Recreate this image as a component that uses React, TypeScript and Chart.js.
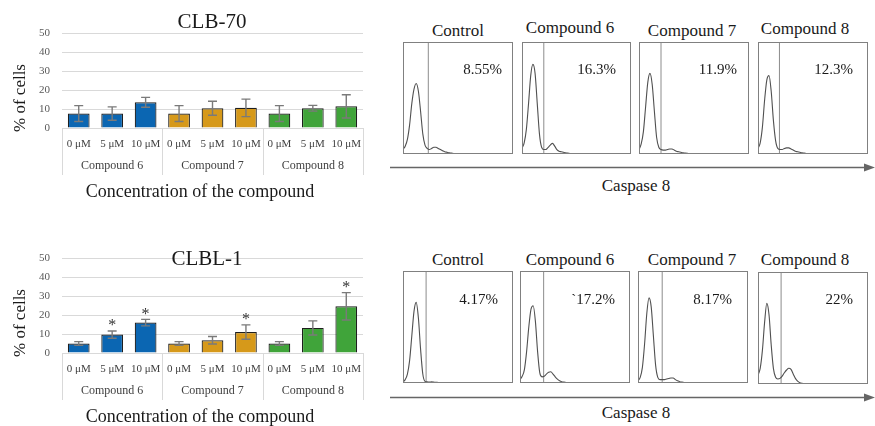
import React, { useEffect, useRef } from 'react';
import { Chart, registerables } from 'chart.js';
Chart.register(...registerables);

const FONT = '"Liberation Serif", "Times New Roman", serif';

// ---------- data: bar charts ----------
const CONCENTRATIONS = ['0 μM', '5 μM', '10 μM'];
const COMPOUNDS = ['Compound 6', 'Compound 7', 'Compound 8'];
const Y_MAX = 50;
const Y_STEP = 10;

const CLB70_MEAN = [7.6, 7.6, 13.5, 7.6, 10.4, 10.6, 7.6, 10.4, 11.4];
const CLB70_SD = [4.2, 3.5, 2.6, 4.2, 3.7, 4.6, 4.2, 1.5, 6.1];
const CLB70_SIG = [false, false, false, false, false, false, false, false, false];

const CLBL1_MEAN = [5.0, 9.7, 16.0, 5.0, 6.7, 11.0, 5.0, 13.2, 24.6];
const CLBL1_SD = [1.0, 1.9, 1.7, 1.0, 2.0, 3.8, 1.0, 3.7, 7.2];
const CLBL1_SIG = [false, true, true, false, false, true, false, false, true];

// ---------- data: flow histograms ----------
const PANEL_TITLES = ['Control', 'Compound 6', 'Compound 7', 'Compound 8'];
const HIST_X = [0, 2, 4, 6, 8, 10, 12, 14, 16, 18, 20, 22, 24, 26, 28, 30, 32, 34, 36, 38, 40, 42, 44, 46, 48, 50];

const CLB70_CONTROL = [4, 7, 13, 26, 45, 58, 63, 56, 38, 18, 8, 5, 4, 5, 6, 6, 5, 4, 3, 2, 1.5, 1, 0.8, 0.5, 0.3, 0];
const CLB70_C6 = [5, 10, 22, 45, 70, 80, 72, 45, 18, 6, 4, 4, 6, 8, 9.5, 7, 4, 2.5, 2, 1.5, 1, 0.8, 0.5, 0.3, 0.2, 0];
const CLB70_C7 = [4, 9, 20, 42, 64, 72, 62, 38, 15, 6, 4, 3.5, 3.5, 4, 4.5, 4.5, 3.5, 2.5, 2, 1.5, 1, 0.8, 0.6, 0.4, 0.2, 0];
const CLB70_C8 = [5, 10, 24, 48, 66, 70, 56, 30, 12, 5, 4, 4, 5, 5.5, 5.5, 4.5, 3.5, 2.5, 2, 1.5, 1, 0.8, 0.5, 0.3, 0.2, 0];
const CLB70_GATES = [23, 20, 20, 19.5];
const CLB70_PCT = ['8.55%', '16.3%', '11.9%', '12.3%'];

const CLBL1_CONTROL = [1, 3, 8, 20, 42, 64, 72, 58, 30, 8, 1.5, 1, 0.8, 1, 0.8, 0.6, 0.5, 0.3, 0.2, 0.1, 0, 0, 0, 0, 0, 0];
const CLBL1_C6 = [3, 6, 12, 28, 50, 66, 69, 55, 28, 9, 5.5, 6, 8, 9.5, 10, 8, 5.5, 3.5, 2, 1.2, 0.8, 0.5, 0.3, 0.2, 0.1, 0];
const CLBL1_C7 = [2, 5, 14, 35, 62, 76, 68, 42, 16, 5, 3, 3, 3, 3.5, 4, 4.5, 4.5, 3, 2, 1.2, 0.8, 0.5, 0.3, 0.2, 0.1, 0];
const CLBL1_C8 = [8, 14, 30, 55, 72, 62, 35, 14, 6, 4.5, 5, 7, 10, 12.5, 14, 13, 9, 5, 2.5, 1.2, 0.6, 0.3, 0.2, 0.1, 0, 0];
const CLBL1_GATES = [21, 21.5, 22, 21];
const CLBL1_PCT = ['4.17%', '`17.2%', '8.17%', '22%'];

const X_AXIS_LABEL = 'Concentration of the compound';
const Y_AXIS_LABEL = '% of cells';
const FLOW_AXIS_LABEL = 'Caspase 8';

// ---------- styles ----------
const GROUP_COLORS = ['#0b66b2', '#d6991a', '#40a43a'];

const barExtrasPlugin = {
  id: 'barExtras',
  afterDatasetsDraw(chart: any, _args: any, opts: any) {
    const { ctx } = chart;
    const meta = chart.getDatasetMeta(0);
    const yS = chart.scales.y;
    const vals = chart.data.datasets[0].data;
    ctx.save();
    meta.data.forEach((bar: any, i: number) => {
      const v = vals[i];
      const top = yS.getPixelForValue(v + opts.sd[i]);
      const bot = yS.getPixelForValue(v - opts.sd[i]);
      const x = bar.x;
      ctx.strokeStyle = '#7a7a7a';
      ctx.lineWidth = 1.4;
      ctx.beginPath();
      ctx.moveTo(x, top); ctx.lineTo(x, bot);
      ctx.moveTo(x - 4.5, top); ctx.lineTo(x + 4.5, top);
      ctx.moveTo(x - 4.5, bot); ctx.lineTo(x + 4.5, bot);
      ctx.stroke();
      if (opts.sig[i]) {
        ctx.fillStyle = '#333';
        ctx.font = `16px ${FONT}`;
        ctx.textAlign = 'center';
        ctx.textBaseline = 'middle';
        ctx.fillText('*', x, top - 5);
      }
    });
    ctx.restore();
  },
  afterDraw(chart: any, _args: any, opts: any) {
    const { ctx, chartArea } = chart;
    const meta = chart.getDatasetMeta(0);
    const n = opts.groupSize;
    ctx.save();
    // separators
    const bounds = [chartArea.left];
    for (let g = 1; g < opts.groups.length; g++) {
      const a = meta.data[g * n - 1].x, b = meta.data[g * n].x;
      bounds.push((a + b) / 2);
    }
    bounds.push(chartArea.right);
    ctx.strokeStyle = '#d9d9d9';
    ctx.lineWidth = 1;
    bounds.forEach((bx: number) => {
      const px = Math.round(bx) + 0.5;
      ctx.beginPath();
      ctx.moveTo(px, chartArea.bottom);
      ctx.lineTo(px, chartArea.bottom + 47);
      ctx.stroke();
    });
    // group labels
    ctx.fillStyle = '#404040';
    ctx.font = `12px ${FONT}`;
    ctx.textAlign = 'center';
    ctx.textBaseline = 'middle';
    opts.groups.forEach((g: string, i: number) => {
      ctx.fillText(g, (bounds[i] + bounds[i + 1]) / 2, chartArea.bottom + 38);
    });
    // x title
    ctx.fillStyle = '#1a1a1a';
    ctx.font = `18px ${FONT}`;
    ctx.fillText(opts.xTitle, opts.xTitleX, chartArea.bottom + 64);
    // y title
    ctx.save();
    ctx.translate(opts.yTitleX, opts.yTitleY);
    ctx.rotate(-Math.PI / 2);
    ctx.font = `17px ${FONT}`;
    ctx.fillText(opts.yTitle, 0, 0);
    ctx.restore();
    // chart title
    ctx.font = `21px ${FONT}`;
    ctx.fillStyle = '#1a1a1a';
    ctx.fillText(opts.title, opts.titleX, opts.titleY);
    ctx.restore();
  },
};

function barConfig(means: number[], sd: number[], sig: boolean[], title: string, titleX: number, titleY: number) {
  const labels = COMPOUNDS.flatMap(() => CONCENTRATIONS);
  const colors = COMPOUNDS.flatMap((_, g) => CONCENTRATIONS.map(() => GROUP_COLORS[g]));
  return {
    type: 'bar',
    data: {
      labels,
      datasets: [{
        data: means,
        backgroundColor: colors,
        borderColor: '#1e1e1e',
        borderWidth: 1.2,
        barPercentage: 0.65,
        categoryPercentage: 1,
      }],
    },
    options: {
      animation: false,
      responsive: false,
      layout: { padding: { top: 33, right: 17, left: 0, bottom: 0 } },
      plugins: {
        legend: { display: false },
        tooltip: { enabled: false },
        title: { display: false },
        barExtras: {
          sd, sig, groups: COMPOUNDS, groupSize: CONCENTRATIONS.length,
          title, titleX, titleY,
          xTitle: X_AXIS_LABEL, xTitleX: 200,
          yTitle: Y_AXIS_LABEL, yTitleX: 21, yTitleY: 98,
        },
      },
      scales: {
        x: {
          grid: { display: false, drawTicks: false },
          border: { display: true, color: '#d9d9d9' },
          ticks: { font: { family: FONT, size: 11 }, color: '#404040', padding: 10, maxRotation: 0, autoSkip: false },
          afterFit: (s: any) => { s.height = 82; },
        },
        y: {
          min: 0, max: Y_MAX,
          ticks: { stepSize: Y_STEP, font: { family: FONT, size: 11 }, color: '#595959', padding: 12 },
          grid: { color: '#d9d9d9', drawTicks: false },
          border: { display: false },
          afterFit: (s: any) => { s.width = 62; },
        },
      },
    },
    plugins: [barExtrasPlugin],
  };
}

const boxBorderPlugin = {
  id: 'boxBorder',
  afterDraw(chart: any) {
    const { ctx, chartArea } = chart;
    ctx.save();
    ctx.strokeStyle = '#808080';
    ctx.lineWidth = 1;
    ctx.strokeRect(chartArea.left + 0.5, chartArea.top + 0.5, chartArea.right - chartArea.left - 1, chartArea.bottom - chartArea.top - 1);
    ctx.restore();
  },
};

function histConfig(heights: number[], gate: number) {
  return {
    type: 'line',
    data: {
      datasets: [
        {
          data: HIST_X.map((x, i) => ({ x, y: heights[i] })),
          borderColor: '#505050', borderWidth: 1.1, pointRadius: 0,
          cubicInterpolationMode: 'monotone', fill: false,
        },
        {
          data: [{ x: gate, y: 0 }, { x: gate, y: 100 }],
          borderColor: '#8c8c8c', borderWidth: 1, pointRadius: 0, fill: false,
        },
      ],
    },
    options: {
      animation: false,
      responsive: false,
      layout: { padding: 0 },
      plugins: { legend: { display: false }, tooltip: { enabled: false } },
      scales: {
        x: { type: 'linear', min: 0, max: 100, display: false },
        y: { min: 0, max: 100, display: false },
      },
    },
    plugins: [boxBorderPlugin],
  };
}

function ChartBox({ make, left, top, width, height }: any) {
  const ref = useRef<HTMLCanvasElement>(null);
  useEffect(() => {
    const chart = new Chart(ref.current as HTMLCanvasElement, make());
    return () => chart.destroy();
  }, []);
  return <canvas ref={ref} width={width} height={height} style={{ position: 'absolute', left, top, width, height }} />;
}

function Txt({ text, x, y, size, align = 'center' }: any) {
  return (
    <div style={{
      position: 'absolute', left: x, top: y,
      transform: align === 'center' ? 'translate(-50%,-50%)' : 'translate(-100%,-50%)',
      font: `${size}px ${FONT}`, color: '#1a1a1a', whiteSpace: 'nowrap', lineHeight: 1,
    }}>{text}</div>
  );
}

const TOP_BOXES = [[403, 42, 110, 112], [522, 42, 109, 112], [639, 42, 110, 112], [758, 42, 110, 112]];
const BOT_BOXES = [[403, 271, 110, 112], [520, 271, 110, 112], [638, 271, 110, 112], [758, 272, 110, 112]];
const TITLE_X = [458, 570, 692, 805];
const TOP_TITLE_Y = [30, 27, 30, 28];
const TOP_PCT_R = [502, 616, 737, 853];
const BOT_PCT_R = [498, 615, 732, 853];

export default function App() {
  const topHists = [CLB70_CONTROL, CLB70_C6, CLB70_C7, CLB70_C8];
  const botHists = [CLBL1_CONTROL, CLBL1_C6, CLBL1_C7, CLBL1_C8];
  return (
    <div style={{ position: 'absolute', left: 0, top: 0, width: 875, height: 426, overflow: 'hidden', background: '#fff' }}>
      <ChartBox make={() => barConfig(CLB70_MEAN, CLB70_SD, CLB70_SIG, 'CLB-70', 212, 22)} left={0} top={0} width={380} height={210} />
      <ChartBox make={() => barConfig(CLBL1_MEAN, CLBL1_SD, CLBL1_SIG, 'CLBL-1', 207, 34)} left={0} top={225} width={380} height={210} />
      {TOP_BOXES.map((b, i) => (
        <ChartBox key={'t' + i} make={() => histConfig(topHists[i], CLB70_GATES[i])} left={b[0]} top={b[1]} width={b[2]} height={b[3]} />
      ))}
      {BOT_BOXES.map((b, i) => (
        <ChartBox key={'b' + i} make={() => histConfig(botHists[i], CLBL1_GATES[i])} left={b[0]} top={b[1]} width={b[2]} height={b[3]} />
      ))}
      {PANEL_TITLES.map((t, i) => <Txt key={'tt' + i} text={t} x={TITLE_X[i]} y={TOP_TITLE_Y[i]} size={17} />)}
      {PANEL_TITLES.map((t, i) => <Txt key={'bt' + i} text={t} x={TITLE_X[i]} y={259} size={17} />)}
      {CLB70_PCT.map((t, i) => <Txt key={'tp' + i} text={t} x={TOP_PCT_R[i]} y={69} size={15} align="right" />)}
      {CLBL1_PCT.map((t, i) => <Txt key={'bp' + i} text={t} x={BOT_PCT_R[i]} y={299} size={15} align="right" />)}
      <Txt text={FLOW_AXIS_LABEL} x={636} y={185} size={17} />
      <Txt text={FLOW_AXIS_LABEL} x={636} y={412} size={17} />
      <svg width={875} height={426} style={{ position: 'absolute', left: 0, top: 0, pointerEvents: 'none' }}>
        <line x1={390} y1={167.5} x2={866} y2={167.5} stroke="#666" strokeWidth={1.5} />
        <polygon points="864,163.5 875,167.5 864,171.5" fill="#666" />
        <line x1={390} y1={397.5} x2={866} y2={397.5} stroke="#666" strokeWidth={1.5} />
        <polygon points="864,393.5 875,397.5 864,401.5" fill="#666" />
      </svg>
    </div>
  );
}
